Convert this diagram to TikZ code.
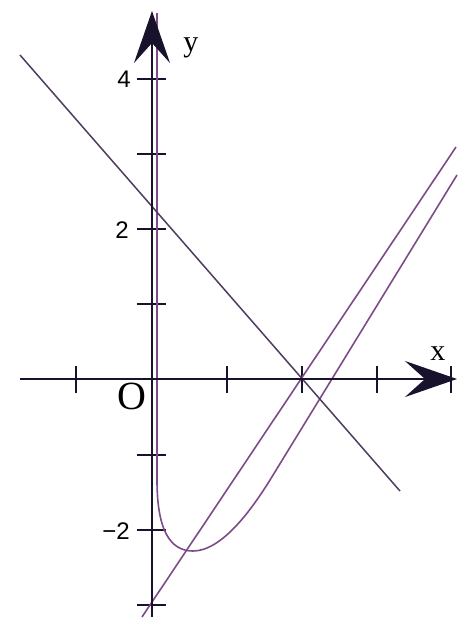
\documentclass[tikz,border=0pt]{standalone}
\usepackage{fontspec}
\setmainfont{Liberation Serif}
\newfontfamily\numfont{Liberation Sans}
\usetikzlibrary{arrows.meta}
\definecolor{axiscol}{RGB}{25,18,45}
\definecolor{curvecol}{RGB}{125,75,135}
\definecolor{linecol}{RGB}{80,60,95}
\tikzset{
  axisline/.style={draw=axiscol, line width=1pt, -{Stealth[length=26pt, width=18pt, inset=10pt]}},
  tickmark/.style={draw=axiscol, line width=0.8pt},
  graphline/.style={draw=curvecol, line width=0.8pt},
  lineline/.style={draw=linecol, line width=0.75pt},
  numlab/.style={font=\numfont\fontsize{12}{14}\selectfont, inner sep=0pt},
  varlab/.style={font=\fontsize{15}{17}\selectfont, inner sep=0pt},
}
\begin{document}
\begin{tikzpicture}[x=0.5pt, y=-0.5pt]
\useasboundingbox (0,0) rectangle (468,629);
% coordinates
\coordinate (xs) at (20,379);
\coordinate (xe) at (457,379);
\coordinate (ys) at (152,617);
\coordinate (ye) at (152,11);
% ticks on x axis
\foreach \px in {76,227,302,377,451} {
  \draw[tickmark] (\px,366) -- (\px,393);
}
% ticks on y axis
\foreach \py in {79,154,229,304,455,530,605} {
  \draw[tickmark] (137,\py) -- (166,\py);
}
% curve
\coordinate (c0) at (157,13);
\coordinate (c1) at (157,480);
\coordinate (cmin) at (193,551);
\coordinate (c2) at (270,480);
\coordinate (c3) at (457,175);
\draw[graphline] (c0) -- (c1) .. controls (157,530) and (170,551) .. (cmin)
  .. controls (222,551) and (252,509) .. (c2) -- (c3);
% straight rising line
\coordinate (r0) at (142,617);
\coordinate (r1) at (456,147);
\draw[graphline] (r0) -- (r1);
% descending line
\coordinate (d0) at (20,55);
\coordinate (d1) at (400,491);
\draw[lineline] (d0) -- (d1);
% axes
\draw[axisline] (xs) -- (xe);
\draw[axisline] (ys) -- (ye);
% labels
\node[numlab] (l4) at (124,79) {4};
\node[numlab] (l2) at (122,230) {2};
\node[numlab] (lm2) at (116,531) {−2};
\node[font=\fontsize{20}{22}\selectfont, inner sep=0pt] (lo) at (132,396) {O};
\node[varlab] (ly) at (191,48) {y};
\node[varlab] (lx) at (438,354) {x};
\end{tikzpicture}
\end{document}
